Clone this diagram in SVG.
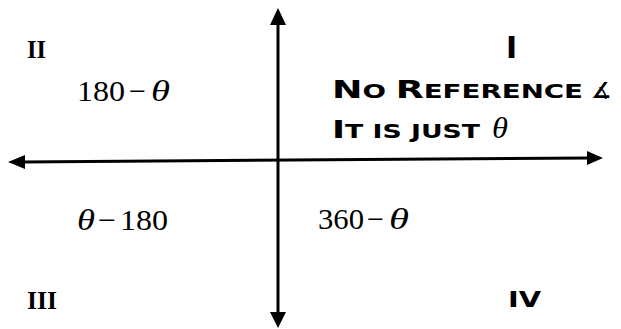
<svg xmlns="http://www.w3.org/2000/svg" width="621" height="329" viewBox="0 0 621 329">
<style>
.ax{stroke:#000;stroke-width:3;fill:none}
.hd{fill:#000}
.q{font-family:"Liberation Serif","Times New Roman",serif;font-weight:bold;font-size:26px;fill:#000}
.m{font-family:"Liberation Serif","Times New Roman",serif;font-size:30px;fill:#000}
.th{font-style:italic}
.cp{font-family:"DejaVu Sans","Liberation Sans",sans-serif;font-weight:bold;fill:#000}
.big{font-size:25px}
.sm{font-size:19px}
</style>
<rect width="621" height="329" fill="#fff"/>
<g id="axes">
<line class="ax" x1="278" y1="22" x2="278" y2="314"/>
<polygon class="hd" points="278,8 270,25 286,25"/>
<polygon class="hd" points="278,328 270,312 286,312"/>
<line class="ax" x1="22" y1="162" x2="590" y2="158"/>
<polygon class="hd" points="8,162 25,155 25,169"/>
<polygon class="hd" points="603,158 587,151 587,165"/>
</g>
<g id="q2"><text class="q" x="27" y="58" textLength="19" lengthAdjust="spacingAndGlyphs">II</text></g>
<g id="q1"><text class="cp" x="506" y="58" font-size="30">I</text></g>
<g id="q3"><text class="q" x="27" y="309" textLength="30" lengthAdjust="spacingAndGlyphs">III</text></g>
<g id="q4"><text class="cp" x="508" y="307" font-size="22" textLength="33" lengthAdjust="spacingAndGlyphs">IV</text></g>
<g id="l2">
<text class="m" x="77" y="101" textLength="48" lengthAdjust="spacingAndGlyphs">180</text>
<text class="m" x="129" y="101" textLength="17" lengthAdjust="spacingAndGlyphs">−</text>
<text class="m th" x="151" y="101" textLength="19" lengthAdjust="spacingAndGlyphs">θ</text>
</g>
<g id="l3">
<text class="m th" x="77" y="230" textLength="18" lengthAdjust="spacingAndGlyphs">θ</text>
<text class="m" x="98" y="230" textLength="18" lengthAdjust="spacingAndGlyphs">−</text>
<text class="m" x="120" y="230" textLength="48" lengthAdjust="spacingAndGlyphs">180</text>
</g>
<g id="l4">
<text class="m" x="318" y="229" textLength="46" lengthAdjust="spacingAndGlyphs">360</text>
<text class="m" x="367" y="229" textLength="17" lengthAdjust="spacingAndGlyphs">−</text>
<text class="m th" x="389" y="229" textLength="20" lengthAdjust="spacingAndGlyphs">θ</text>
</g>
<g id="l1">
<text class="cp" x="332" y="98" textLength="251" lengthAdjust="spacingAndGlyphs"><tspan class="big">N</tspan><tspan class="sm">O </tspan><tspan class="big">R</tspan><tspan class="sm">EFERENCE</tspan></text>
<text class="cp" x="591" y="98" font-size="22" font-weight="normal">∡</text>
<text class="cp" x="332" y="138" textLength="148" lengthAdjust="spacingAndGlyphs"><tspan class="big">I</tspan><tspan class="sm">T IS JUST</tspan></text>
<text class="m th" x="492" y="138" textLength="16" lengthAdjust="spacingAndGlyphs">θ</text>
</g>
</svg>
